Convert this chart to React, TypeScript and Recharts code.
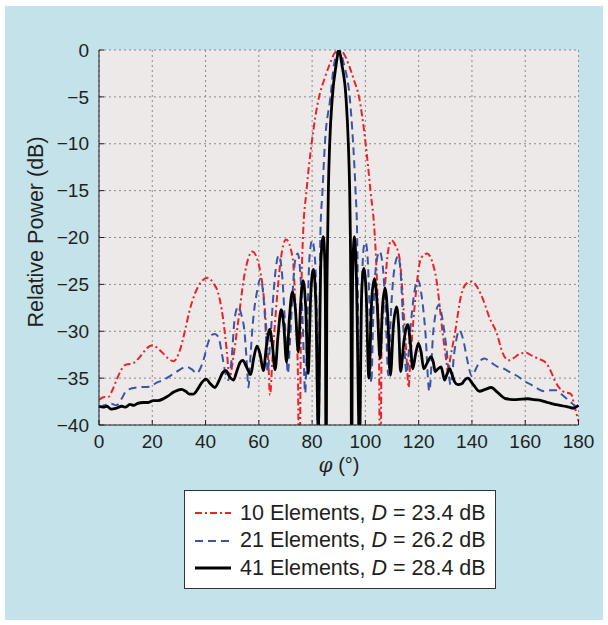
import { LineChart, Line, XAxis, YAxis, CartesianGrid } from 'recharts';

// azimuth (deg) and relative power (dB)
const phi10 = [0, 2, 3.5, 5, 6.6, 8, 9.8, 12.9, 16, 18,
  20, 22, 23.5, 26, 28, 30.4, 32.3, 34, 36, 38.5,
  40.8, 43, 44.6, 46.5, 48, 49, 50.3, 52.1, 54.6, 57.6,
  60.8, 62.7, 63.6, 64.2, 65.1, 66.5, 68.3, 70.2, 72.7, 74,
  74.7, 75.2, 75.8, 76.6, 77.9, 79.8, 82.6, 84.5, 86.5, 88.3,
  90.1, 91.9, 93.8, 95.7, 97.6, 100.1, 101.9, 103.5, 104.4, 105.1,
  105.6, 106.1, 107.2, 108.5, 109.8, 111.2, 112.8, 114.7, 115.6, 116.2,
  116.9, 118.4, 120.9, 123.2, 125, 126.6, 129.1, 130.3, 131, 131.8,
  133.5, 136, 138, 140, 142, 144.3, 146.5, 149.3, 151.5, 153.7,
  156, 158, 160.2, 162.5, 164.7, 167.9, 169.5, 171, 174.1, 177.2,
  178.5, 180];
const db10 = [-37.3, -37.0, -37.0, -36.3, -35.2, -34.3, -33.6, -33.4, -32.5, -31.8,
  -31.5, -31.8, -32.2, -32.9, -33.2, -32.0, -29.9, -27.8, -26.0, -24.7,
  -24.3, -24.9, -25.8, -28.5, -32.2, -35.0, -33.0, -29.3, -24.0, -21.5,
  -24.0, -29.3, -33.5, -36.8, -33.0, -27.5, -22.2, -20.2, -22.2, -29.3,
  -35.0, -50, -29.0, -19.7, -15.0, -10.0, -5.0, -3.2, -1.6, -0.4,
  0, -0.4, -1.6, -3.2, -5.0, -10.0, -15.0, -19.7, -25.0, -32.0,
  -50, -31.0, -25.8, -21.5, -20.3, -20.8, -22.2, -29.3, -33.5, -36.0,
  -33.0, -27.6, -22.2, -21.7, -22.5, -24.4, -30.4, -33.0, -34.4, -33.0,
  -30.4, -26.1, -24.9, -24.7, -25.3, -26.7, -28.5, -30.2, -32.3, -33.1,
  -32.8, -32.4, -32.3, -32.6, -32.9, -33.4, -34.2, -35.2, -36.4, -36.7,
  -38.0, -39.6];

const phi21 = [0, 2, 4.1, 6.6, 8.5, 10.4, 14.2, 19.2, 21.5, 24.2,
  27, 29.2, 32.9, 35, 36.7, 38, 39.2, 41, 42.3, 43.4,
  44.8, 46.2, 47.5, 48.5, 49.6, 51, 52.2, 53.5, 54.6, 55.4,
  56.1, 56.8, 57.7, 59.3, 60.6, 61.8, 62.6, 63.3, 64.3, 65.5,
  66.5, 67.5, 68.6, 69.6, 70.3, 70.9, 71.7, 72.7, 73.6, 74.6,
  75.5, 76.5, 77.4, 78.2, 79, 80, 81, 81.7, 82.35, 82.8,
  83.1, 83.9, 84.8, 86.9, 88.2, 90.1, 92, 94.1, 95.4, 96.3,
  96.9, 97.3, 97.75, 98.2, 98.8, 99.4, 100.1, 100.8, 101.5, 102.2,
  103, 104, 105.3, 106.5, 107.6, 108.6, 109.6, 110.8, 112.3, 113.3,
  114.2, 115.5, 116.8, 118.3, 119.7, 121, 122.5, 124, 125.5, 126.6,
  127.6, 128.8, 130.3, 132, 133.5, 135.3, 136.8, 138.2, 140, 141.5,
  143, 144.7, 147, 149.7, 152, 154.5, 157.2, 159.5, 162.2, 164.5,
  167.3, 169.5, 171.6, 173.5, 176, 178, 180];
const db21 = [-38.1, -37.9, -37.7, -37.9, -37.2, -36.3, -36.0, -35.9, -35.5, -35.2,
  -34.7, -34.3, -33.8, -34.1, -34.5, -34.0, -33.1, -31.2, -30.4, -30.3,
  -30.6, -32.5, -34.5, -35.2, -33.5, -28.5, -27.4, -28.3, -30.0, -33.0,
  -36.0, -33.0, -29.3, -25.8, -24.4, -26.5, -30.0, -34.3, -31.0, -26.0,
  -23.0, -21.9, -23.5, -28.0, -32.0, -34.5, -31.0, -25.8, -22.5, -21.7,
  -23.5, -29.3, -36.6, -29.0, -22.2, -20.3, -22.0, -28.0, -50, -30.0,
  -19.7, -15.0, -10.0, -5.0, -1.6, 0, -1.6, -5.0, -10.0, -15.0,
  -19.7, -30.0, -50, -31.0, -24.0, -21.0, -20.5, -22.0, -27.0, -35.5,
  -28.0, -23.0, -21.5, -23.0, -28.0, -34.7, -28.0, -23.5, -22.0, -24.0,
  -29.3, -34.5, -30.0, -26.0, -24.5, -26.0, -30.0, -36.4, -30.0, -27.8,
  -27.2, -28.5, -31.5, -35.7, -32.0, -29.9, -31.0, -33.0, -34.8, -34.0,
  -33.2, -32.9, -33.3, -33.8, -34.0, -34.4, -34.8, -35.3, -35.7, -36.1,
  -36.4, -36.3, -36.3, -36.7, -37.3, -37.8, -38.3];

const phi41 = [0, 1.6, 3, 4.5, 6.6, 8.5, 10, 11.6, 13, 14.5,
  16.7, 18.5, 20.4, 22, 24.2, 26, 27.9, 29.5, 31, 32.5,
  34, 35.4, 37, 38.5, 40.2, 41.8, 43.5, 45, 46.5, 47.7,
  48.9, 50.5, 51.8, 53, 54, 55.2, 57, 58, 59.3, 60.5,
  61.7, 62.9, 64.1, 65.1, 66.1, 67.2, 68.4, 69.4, 70.4, 71.5,
  72.6, 73.7, 74.8, 75.7, 76.6, 77.6, 78.5, 79.5, 80.5, 81.4,
  82.3, 83.3, 84.2, 84.7, 85.0, 85.25, 85.5, 85.85, 86.1, 86.6,
  87.6, 89.0, 90.1, 91.2, 92.7, 93.6, 94.1, 94.35, 94.6, 94.85,
  95.1, 95.4, 95.9, 96.6, 97.8, 98.6, 99.4, 100.3, 101.3, 102.4,
  103.4, 104.4, 105.5, 106.4, 107.4, 108.4, 109.4, 110.5, 111.7, 112.5,
  113.2, 114.5, 115.9, 116.8, 117.8, 118.8, 119.9, 120.9, 121.9, 123.3,
  124.7, 125.5, 126.2, 127.3, 128.4, 129, 129.7, 130.6, 131.6, 132.5,
  133.5, 134.7, 136.2, 137.3, 138.4, 140.5, 142.8, 145, 147.2, 149.5,
  152.8, 156.6, 161, 163.5, 166, 168.5, 171, 173, 174.8, 176.5,
  177.9, 180];
const db41 = [-38.0, -38.1, -38.0, -38.3, -38.2, -38.0, -38.1, -37.8, -37.9, -37.7,
  -37.6, -37.6, -37.4, -37.4, -37.2, -36.9, -36.5, -36.3, -36.2, -36.4,
  -36.7, -36.7, -36.2, -35.5, -35.1, -35.6, -36.0, -35.3, -34.4, -34.2,
  -34.8, -35.2, -34.2, -33.3, -33.1, -33.7, -34.6, -33.0, -31.6, -32.5,
  -34.2, -31.5, -29.8, -31.5, -34.1, -30.5, -27.7, -29.5, -33.3, -28.5,
  -25.8, -27.5, -32.2, -27.0, -24.6, -27.5, -34.5, -26.0, -23.4, -27.0,
  -40.5, -22.5, -19.9, -22.0, -28.0, -50, -28.0, -19.7, -15.0, -10.0,
  -5.0, -1.6, 0, -1.6, -5.0, -10.0, -15.0, -19.7, -28.0, -50,
  -28.0, -22.0, -19.9, -24.0, -42, -26.0, -23.3, -26.0, -35.0, -26.5,
  -24.4, -27.0, -32.9, -27.5, -25.4, -28.5, -34.7, -29.5, -27.4, -29.5,
  -34.3, -31.0, -29.3, -31.0, -34.0, -32.5, -31.3, -32.2, -34.0, -33.3,
  -32.7, -33.3, -34.3, -34.0, -33.8, -34.4, -35.2, -34.6, -34.0, -34.6,
  -35.4, -35.7, -35.6, -35.2, -35.0, -35.7, -36.4, -36.2, -36.0, -36.5,
  -37.2, -37.3, -37.2, -37.3, -37.4, -37.6, -37.8, -37.9, -38.0, -38.1,
  -38.2, -37.9];

const xTicks = [0, 20, 40, 60, 80, 100, 120, 140, 160, 180];
const yTicks = [-40, -35, -30, -25, -20, -15, -10, -5, 0];

const toRows = (phi: number[], db: number[]) => phi.map((p, i) => ({ phi: p, db: db[i] }));

const RED = '#e8242b';
const BLUE = '#3b55a6';
const RED_DASH = '7 3 2 3';
const BLUE_DASH = '8 5';

const fmtY = (v: number) => (v < 0 ? `\u2212${-v}` : `${v}`);

const legendRows = [
  { n: '10', d: '23.4', color: RED, dash: RED_DASH, w: 2 },
  { n: '21', d: '26.2', color: BLUE, dash: BLUE_DASH, w: 2 },
  { n: '41', d: '28.4', color: '#000', dash: undefined, w: 3 },
];

export default function App() {
  const tickStyle = { fontSize: 19, fill: '#231f20' };
  return (
    <div style={{ position: 'absolute', left: 0, top: 0, width: 608, height: 625, background: '#fff', fontFamily: '"Liberation Sans", Arial, sans-serif', color: '#231f20' }}>
      <div style={{ position: 'absolute', left: 5, top: 6, width: 598, height: 614, background: '#c4e2e9' }} />
      <div style={{ position: 'absolute', left: 0, top: 0 }}>
        <LineChart width={608} height={480} margin={{ top: 50, right: 29.5, left: 39, bottom: 15 }}>
          <CartesianGrid stroke="#8a8a8a" strokeDasharray="2 3" fill="#ece9e8" fillOpacity={1} />
          <XAxis dataKey="phi" type="number" domain={[0, 180]} ticks={xTicks} interval={0}
            height={40} tickSize={-5} tickMargin={15} tick={tickStyle} stroke="#231f20" />
          <XAxis xAxisId="top" orientation="top" dataKey="phi" type="number" domain={[0, 180]} ticks={xTicks}
            height={0} tickSize={-5} tick={false} stroke="#231f20" />
          <YAxis type="number" domain={[-40, 0]} ticks={yTicks} interval={0} allowDataOverflow
            width={60} tickSize={-5} tickMargin={15} tick={tickStyle} tickFormatter={fmtY} stroke="#231f20" />
          <YAxis yAxisId="right" orientation="right" type="number" domain={[-40, 0]} ticks={yTicks}
            width={0} tickSize={-5} tick={false} stroke="#231f20" />
          <Line data={toRows(phi10, db10)} dataKey="db" type="monotone" stroke={RED} strokeWidth={2}
            strokeDasharray={RED_DASH} dot={false} activeDot={false} isAnimationActive={false} />
          <Line data={toRows(phi21, db21)} dataKey="db" type="monotone" stroke={BLUE} strokeWidth={2}
            strokeDasharray={BLUE_DASH} dot={false} activeDot={false} isAnimationActive={false} />
          <Line data={toRows(phi41, db41)} dataKey="db" type="monotone" stroke="#000" strokeWidth={2.8}
            dot={false} activeDot={false} isAnimationActive={false} />
        </LineChart>
      </div>

      <div style={{ position: 'absolute', left: 36, top: 232, transform: 'translate(-50%, -50%) rotate(-90deg)', whiteSpace: 'nowrap', fontSize: 21.5 }}>
        Relative Power (dB)
      </div>
      <div style={{ position: 'absolute', left: 339, top: 465, transform: 'translate(-50%, -50%)', whiteSpace: 'nowrap', fontSize: 20 }}>
        <i style={{ fontFamily: '"DejaVu Serif", serif' }}>φ</i> (°)
      </div>

      <div style={{ position: 'absolute', left: 184, top: 490, width: 310, height: 97, background: '#fff', border: '1px solid #333' }}>
        {legendRows.map((r, i) => (
          <div key={r.n} style={{ position: 'absolute', left: 10, top: 10 + i * 27.5, height: 24, display: 'flex', alignItems: 'center', whiteSpace: 'nowrap', fontSize: 21.5 }}>
            <svg width={36} height={10} style={{ marginRight: 9 }}>
              <line x1={0} y1={5} x2={36} y2={5} stroke={r.color} strokeWidth={r.w} strokeDasharray={r.dash} />
            </svg>
            <span>{r.n} Elements, <i>D</i> = {r.d} dB</span>
          </div>
        ))}
      </div>
    </div>
  );
}
